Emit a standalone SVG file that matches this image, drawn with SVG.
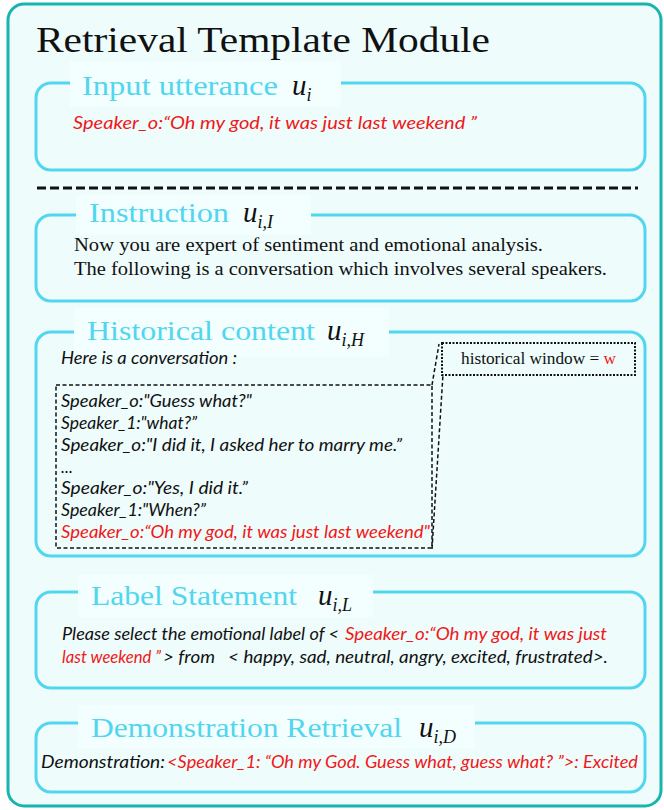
<svg xmlns="http://www.w3.org/2000/svg" width="664" height="810" viewBox="0 0 664 810">
<style>
.box{fill:none;stroke:#52D6EF;stroke-width:3}
.patch{fill:#F3FEFE;stroke:none}
.lbl{font-family:"Liberation Serif",serif;font-size:28px;fill:#52D6EF}
.math{font-family:"Liberation Serif",serif;font-style:italic;font-size:29px;fill:#111}
.sub{font-size:18px}
.it{font-family:Lato,"Liberation Sans",sans-serif;font-style:italic;font-size:17px;fill:#111}
.rm{font-family:"Liberation Serif",serif;font-size:18px;fill:#111}
.red{fill:#F01818}
</style>
<rect x="8" y="4" width="653" height="802" rx="16" fill="#EEFCFC" stroke="#18B4AE" stroke-width="3"/>
<text x="36" y="52" font-family="Liberation Serif,serif" font-size="36" fill="#111" textLength="454" lengthAdjust="spacingAndGlyphs">Retrieval Template Module</text>

<g id="input">
<rect class="box" x="36" y="83" width="609" height="87" rx="15"/>
<rect class="patch" x="70" y="61" width="271" height="46"/>
<text class="lbl" x="82" y="95" textLength="196" lengthAdjust="spacingAndGlyphs">Input utterance</text>
<text class="math" x="292" y="95">u<tspan class="sub" dy="6">i</tspan></text>
<text class="it red" x="73" y="129" textLength="404" lengthAdjust="spacingAndGlyphs">Speaker_o:“Oh my god, it was just last weekend ”</text>
</g>

<g id="connectors">
<line x1="37" y1="188" x2="638" y2="188" stroke="#111" stroke-width="3" stroke-dasharray="9,4"/>
<line x1="432" y1="385" x2="439" y2="344" stroke="#111" stroke-width="1.5" stroke-dasharray="4,2.5"/>
<line x1="432" y1="549" x2="443" y2="374" stroke="#111" stroke-width="1.5" stroke-dasharray="4,2.5"/>
</g>

<g id="instruction">
<rect class="box" x="36" y="215" width="609" height="86" rx="15"/>
<rect class="patch" x="76" y="195" width="235" height="40"/>
<text class="lbl" x="89" y="222" textLength="140" lengthAdjust="spacingAndGlyphs">Instruction</text>
<text class="math" x="243" y="222">u<tspan class="sub" dy="6">i,I</tspan></text>
<text class="rm" x="74" y="251" textLength="469" lengthAdjust="spacingAndGlyphs">Now you are expert of sentiment and emotional analysis.</text>
<text class="rm" x="74" y="275" textLength="533" lengthAdjust="spacingAndGlyphs">The following is a conversation which involves several speakers.</text>
</g>

<g id="historical">
<rect class="box" x="36" y="332" width="609" height="224" rx="15"/>
<rect class="patch" x="74" y="308" width="315" height="49"/>
<text class="lbl" x="87" y="340" textLength="228" lengthAdjust="spacingAndGlyphs">Historical content</text>
<text class="math" x="327" y="340">u<tspan class="sub" dy="6">i,H</tspan></text>
<text class="it" x="61" y="364" textLength="176" lengthAdjust="spacingAndGlyphs">Here is a conversation :</text>
<rect x="56" y="385" width="376" height="163" fill="none" stroke="#111" stroke-width="1.5" stroke-dasharray="4,2.5"/>
<text class="it" x="61" y="407" textLength="191" lengthAdjust="spacingAndGlyphs">Speaker_o:"Guess what?"</text>
<text class="it" x="61" y="429" textLength="136" lengthAdjust="spacingAndGlyphs">Speaker_1:"what?”</text>
<text class="it" x="61" y="451" textLength="341" lengthAdjust="spacingAndGlyphs">Speaker_o:"I did it, I asked her to marry me.”</text>
<text class="it" x="61" y="473">...</text>
<text class="it" x="61" y="494" textLength="187" lengthAdjust="spacingAndGlyphs">Speaker_o:"Yes, I did it.”</text>
<text class="it" x="61" y="516" textLength="145" lengthAdjust="spacingAndGlyphs">Speaker_1:"When?”</text>
<text class="it red" x="61" y="538" textLength="369" lengthAdjust="spacingAndGlyphs">Speaker_o:“Oh my god, it was just last weekend"</text>
<rect x="442" y="343" width="193" height="32" fill="none" stroke="#111" stroke-width="2" stroke-dasharray="2,1.5"/>
<text x="461" y="364" font-family="Liberation Serif,serif" font-size="16" fill="#111" textLength="155" lengthAdjust="spacingAndGlyphs">historical window = <tspan class="red">w</tspan></text>
</g>

<g id="label">
<rect class="box" x="36" y="592" width="609" height="96" rx="15"/>
<rect class="patch" x="78" y="575" width="295" height="42"/>
<text class="lbl" x="91" y="605" textLength="206" lengthAdjust="spacingAndGlyphs">Label Statement</text>
<text class="math" x="318" y="605">u<tspan class="sub" dy="6">i,L</tspan></text>
<text class="it" x="62" y="640"><tspan textLength="277" lengthAdjust="spacingAndGlyphs">Please select the emotional label of &lt;</tspan> <tspan class="red" x="345" textLength="262" lengthAdjust="spacingAndGlyphs">Speaker_o:“Oh my god, it was just</tspan></text>
<text class="it" x="62" y="663"><tspan class="red" textLength="99" lengthAdjust="spacingAndGlyphs">last weekend ”</tspan><tspan x="163" textLength="445" lengthAdjust="spacingAndGlyphs">&gt; from &#160;&#160;&lt; happy, sad, neutral, angry, excited, frustrated&gt;.</tspan></text>
</g>

<g id="demonstration">
<rect class="box" x="36" y="723" width="609" height="69" rx="15"/>
<rect class="patch" x="78" y="705" width="397" height="43"/>
<text class="lbl" x="91" y="737" textLength="311" lengthAdjust="spacingAndGlyphs">Demonstration Retrieval</text>
<text class="math" x="419" y="737">u<tspan class="sub" dy="6">i,D</tspan></text>
<text class="it" x="41" y="768"><tspan textLength="124" lengthAdjust="spacingAndGlyphs">Demonstration:</tspan><tspan class="red" x="167" textLength="471" lengthAdjust="spacingAndGlyphs">&lt;Speaker_1: “Oh my God. Guess what, guess what? ”&gt;: Excited</tspan></text>
</g>
</svg>
